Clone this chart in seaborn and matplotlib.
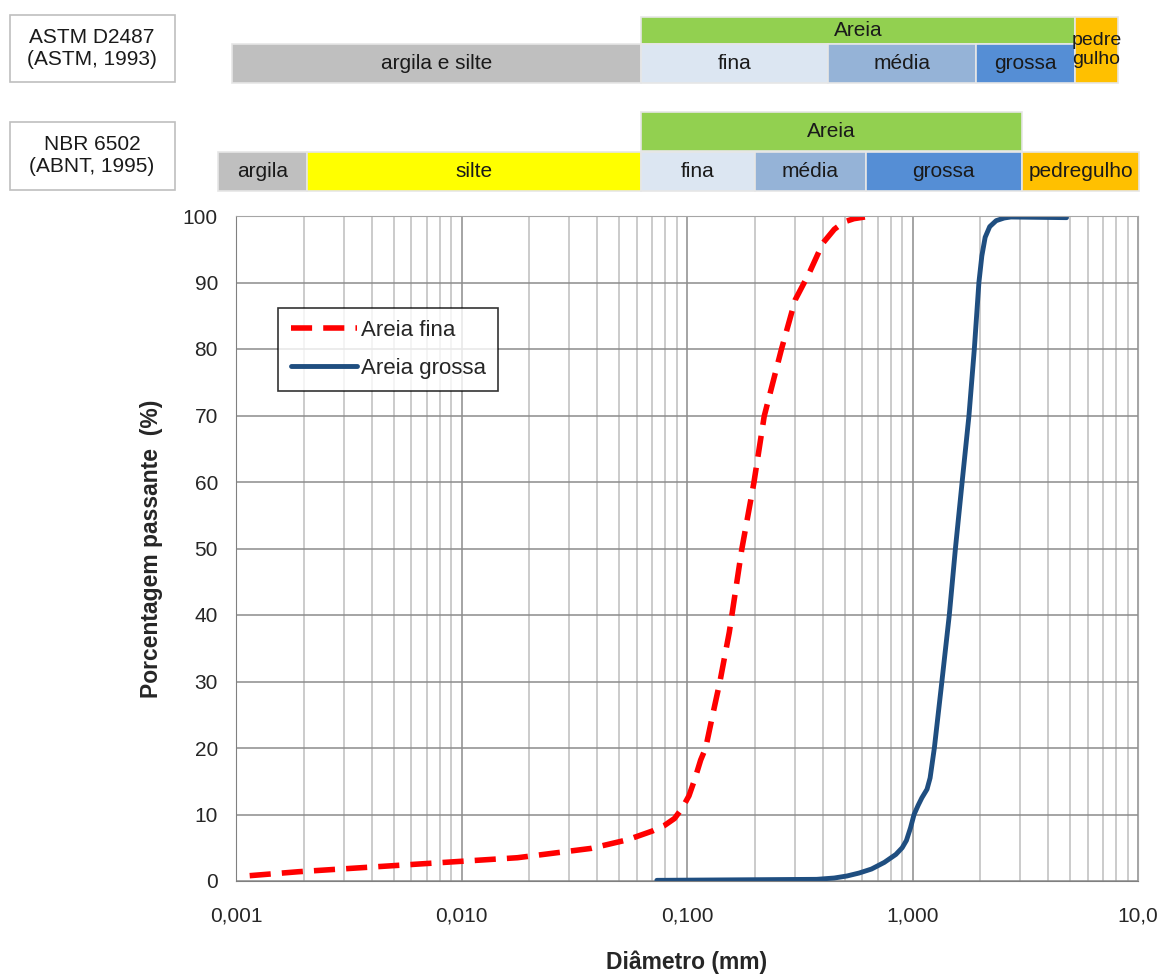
import numpy as np
import pandas as pd
import matplotlib
matplotlib.use('Agg')
import matplotlib.pyplot as plt
import matplotlib.ticker as mticker
from matplotlib.patches import Rectangle
from matplotlib.transforms import blended_transform_factory
import seaborn as sns

#-------------------------------------------------
# curva granulometrica (diametro em mm, % passante)
d_fina=[0.00115, 0.0019, 0.004, 0.0084, 0.0177, 0.0375, 0.0545, 0.07, 0.079, 0.088, 0.095,
        0.102, 0.108, 0.115, 0.121, 0.13, 0.14, 0.154, 0.175, 0.198, 0.22, 0.262, 0.302,
        0.348, 0.40, 0.45, 0.497, 0.55, 0.615]
p_fina=[0.8, 1.4, 2.1, 2.8, 3.5, 4.9, 6.2, 7.5, 8.3, 9.4, 10.9,
        12.8, 15.2, 18.2, 20.0, 25.0, 30.0, 37.4, 49.9, 59.9, 69.9, 79.9, 87.4,
        91.4, 95.9, 98.0, 99.1, 99.6, 99.85]

d_grossa=[0.0735, 0.376, 0.45, 0.513, 0.58, 0.658, 0.75, 0.844, 0.90, 0.94, 0.98, 1.016,
          1.06, 1.10, 1.16, 1.197, 1.25, 1.35, 1.456, 1.55, 1.66, 1.78, 1.88, 1.97,
          2.03, 2.10, 2.20, 2.35, 2.55, 2.73, 4.82]
p_grossa=[0.1, 0.25, 0.45, 0.76, 1.2, 1.8, 2.8, 4.0, 5.0, 6.1, 8.0, 10.0,
          11.4, 12.5, 13.8, 15.5, 20.0, 30.0, 40.0, 50.0, 60.0, 70.0, 80.0, 90.0,
          94.0, 96.8, 98.4, 99.3, 99.7, 99.85, 99.75]

x_ticks=[0.001, 0.01, 0.1, 1, 10]
x_ticklabels=['0,001', '0,010', '0,100', '1,000', '10,0']

# faixas de classificacao (limites em mm)
astm_top=[('Areia', 0.0625, 5.25, '#92D050')]
astm_sub=[('argila e silte', 0.00096, 0.0625, '#BFBFBF'),
          ('fina', 0.0625, 0.42, '#DCE6F2'),
          ('média', 0.42, 1.91, '#95B3D7'),
          ('grossa', 1.91, 5.25, '#558ED5')]
astm_pedre=('pedre\ngulho', 5.25, 8.15, '#FFC000')
nbr_top=[('Areia', 0.0625, 3.06, '#92D050')]
nbr_sub=[('argila', 0.00083, 0.00207, '#BFBFBF'),
         ('silte', 0.00207, 0.0625, '#FFFF00'),
         ('fina', 0.0625, 0.2, '#DCE6F2'),
         ('média', 0.2, 0.62, '#95B3D7'),
         ('grossa', 0.62, 3.06, '#558ED5'),
         ('pedregulho', 3.06, 10.1, '#FFC000')]

#-------------------------------------------------
sns.set_style('white')
plt.rcParams['font.family']=['Liberation Sans', 'DejaVu Sans']

df=pd.concat([
    pd.DataFrame({'d': d_fina, 'p': p_fina, 'amostra': 'Areia fina'}),
    pd.DataFrame({'d': d_grossa, 'p': p_grossa, 'amostra': 'Areia grossa'}),
])

H=974
fig=plt.figure(figsize=(11.59, 9.74), dpi=100)
ax=fig.add_axes([236/1159, (H-881)/H, 902/1159, 665/H])

sns.lineplot(data=df[df['amostra']=='Areia fina'], x='d', y='p', ax=ax, sort=False,
             color='#FF0000', lw=4, label='Areia fina')
ax.lines[-1].set_dashes([3.8, 2.0])
sns.lineplot(data=df[df['amostra']=='Areia grossa'], x='d', y='p', ax=ax, sort=False,
             color='#1F4E80', lw=3.5, label='Areia grossa')
for l in ax.lines:
    l.set_solid_joinstyle('round')
    l.set_dash_joinstyle('round')

ax.set_xscale('log')
ax.set_xlim(0.001, 10)
ax.set_ylim(0, 100)
ax.set_xticks(x_ticks)
ax.set_xticklabels(x_ticklabels)
ax.xaxis.set_minor_locator(mticker.LogLocator(base=10, subs=np.arange(2, 10)))
ax.xaxis.set_minor_formatter(mticker.NullFormatter())
ax.set_yticks(np.arange(0, 101, 10))
ax.grid(which='major', color='#8C8C8C', lw=1.1)
ax.grid(which='minor', axis='x', color='#BDBDBD', lw=1.1)
ax.set_axisbelow(True)
for s in ['top', 'right']:
    ax.spines[s].set_color('#A6A6A6')
for s in ['left', 'bottom']:
    ax.spines[s].set_color('#808080')
ax.tick_params(axis='both', which='major', direction='out', length=6, color='#808080',
               labelsize=15, pad=7)
ax.tick_params(axis='x', which='minor', length=0)
ax.tick_params(axis='x', pad=12)
ax.set_xlabel('Diâmetro (mm)', fontsize=16.5, weight='bold', labelpad=18)
ax.set_ylabel('Porcentagem passante  (%)', fontsize=16.5, weight='bold', labelpad=14)

leg=ax.legend(loc='upper left', bbox_to_anchor=(0.047, 0.862), fontsize=16,
              frameon=True, fancybox=False, edgecolor='black', handlelength=3.0,
              handletextpad=0.15, borderpad=0.55, labelspacing=0.75, borderaxespad=0)
leg.get_frame().set_linewidth(1.2)

#-------------------------------------------------
# faixas de classificacao acima do grafico
tr=blended_transform_factory(ax.transData, fig.transFigure)

def fy(px):
    return 1-px/H

def band(items, y0, y1, fs=15):
    for name, a, b, c in items:
        r=Rectangle((a, fy(y1)), b-a, fy(y0)-fy(y1), transform=tr, facecolor=c,
                    edgecolor='#E6E6E6', lw=1.2, clip_on=False)
        fig.add_artist(r)
        xm=np.sqrt(a*b)
        fig.text(0, 0, name, transform=tr, fontsize=fs, ha='center', va='center',
                 linespacing=1.1, color='#1a1a1a').set_position((xm, (fy(y0)+fy(y1))/2))

band(astm_top, 17, 44)
band(astm_sub, 44, 83)
band([astm_pedre], 17, 83, fs=14)
band(nbr_top, 112, 151)
band(nbr_sub, 152, 191)

for txt, y0, y1 in [('ASTM D2487\n(ASTM, 1993)', 15, 82), ('NBR 6502\n(ABNT, 1995)', 122, 190)]:
    fig.add_artist(Rectangle((10/1159, fy(y1)), 165/1159, fy(y0)-fy(y1),
                             transform=fig.transFigure, facecolor='white',
                             edgecolor='#BFBFBF', lw=1.2))
    fig.text(92/1159, (fy(y0)+fy(y1))/2, txt, fontsize=15, ha='center', va='center',
             linespacing=1.2, color='#1a1a1a')

fig.savefig('out.png', dpi=100)
plt.close()
